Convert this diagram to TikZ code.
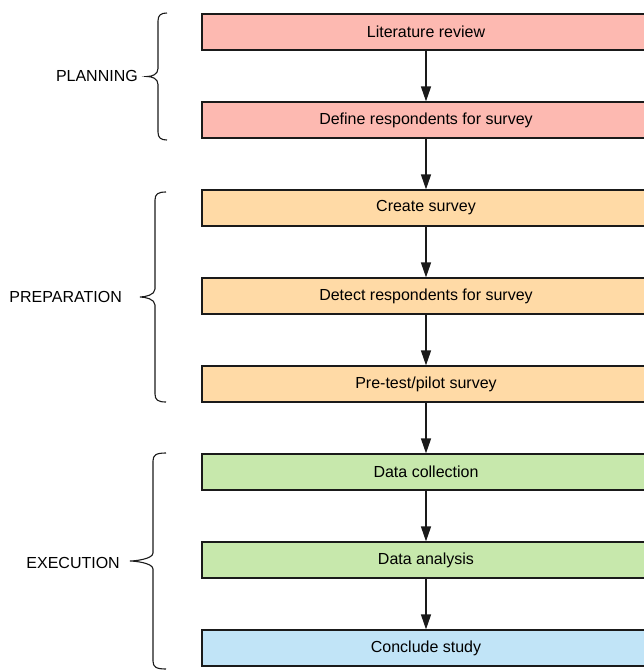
\documentclass[tikz,border=0pt]{standalone}
\usepackage{fontspec}
\setmainfont{Liberation Sans}
\usetikzlibrary{arrows.meta}
\definecolor{cred}{HTML}{FDB9B1}
\definecolor{corange}{HTML}{FFDAA6}
\definecolor{cgreen}{HTML}{C7E8AC}
\definecolor{cblue}{HTML}{C1E4F7}
\definecolor{cline}{HTML}{1A1A1A}
\newcommand\mybrace[5]{%
  \draw[bracestyle] (#5,#1) .. controls ({#3+3},#1) and (#3,{#1+2}) .. (#3,{#1+8})
    -- (#3,{(#1+#2)/2-8}) .. controls (#3,{(#1+#2)/2-2}) and ({#4+5},{(#1+#2)/2}) .. (#4,{(#1+#2)/2})
    .. controls ({#4+5},{(#1+#2)/2}) and (#3,{(#1+#2)/2+2}) .. (#3,{(#1+#2)/2+8})
    -- (#3,{#2-8}) .. controls (#3,{#2-2}) and ({#3+3},#2) .. (#5,#2);}
\begin{document}
\begin{tikzpicture}[x=1pt,y=-1pt,
  stepbox/.style={draw=cline,line width=1.2pt,minimum width=448pt,minimum height=36pt,inner sep=0pt,font=\fontsize{16}{19}\selectfont},
  arr/.style={draw=cline,line width=1.3pt,-{Triangle[width=10pt,length=15pt]}},
  bracestyle/.style={draw=cline,line width=1.1pt},
  lab/.style={anchor=east,inner sep=0pt,font=\fontsize{16}{19}\selectfont}]
\useasboundingbox (0,0) rectangle (644,670);
\node[stepbox,fill=cred] (n1) at (426,32) {Literature review};
\node[stepbox,fill=cred] (n2) at (426,120) {Define respondents for survey};
\node[stepbox,fill=corange] (n3) at (426,208) {Create survey};
\node[stepbox,fill=corange] (n4) at (426,296) {Detect respondents for survey};
\node[stepbox,fill=corange] (n5) at (426,384) {Pre-test/pilot survey};
\node[stepbox,fill=cgreen] (n6) at (426,472) {Data collection};
\node[stepbox,fill=cgreen] (n7) at (426,560) {Data analysis};
\node[stepbox,fill=cblue] (n8) at (426,648) {Conclude study};
\foreach \a/\b in {n1/n2,n2/n3,n3/n4,n4/n5,n5/n6,n6/n7,n7/n8}
  \draw[arr] (\a.south) -- (\b.north);
\mybrace{13}{140}{158}{147}{167}
\mybrace{192}{402}{155}{140}{166}
\mybrace{453}{669}{153}{130}{166}
\node[lab] (l1) at (138,76) {PLANNING};
\node[lab] (l2) at (122,297) {PREPARATION};
\node[lab] (l3) at (120,563) {EXECUTION};
\end{tikzpicture}
\end{document}
